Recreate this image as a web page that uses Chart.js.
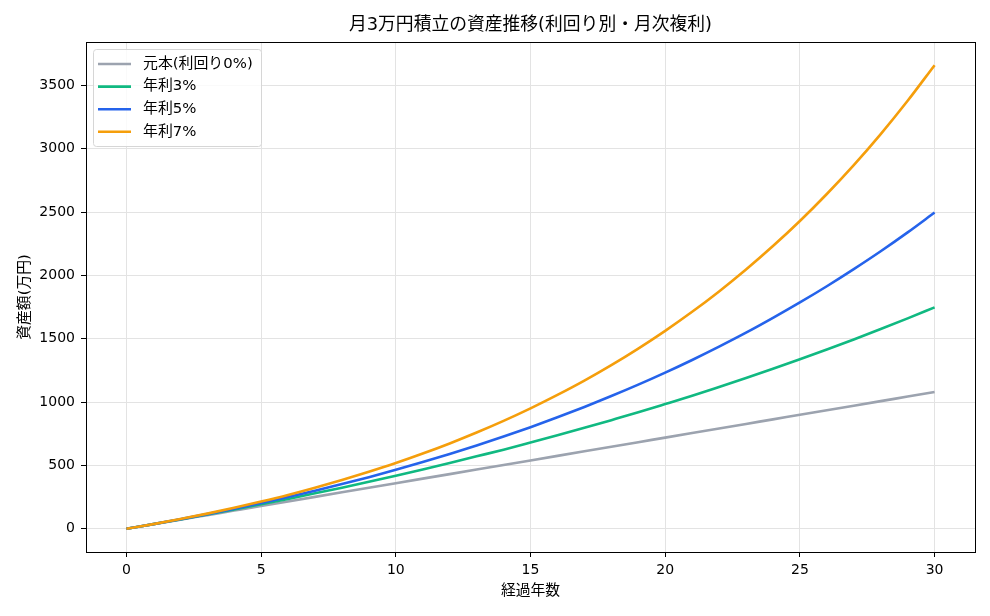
<!DOCTYPE html>
<html><head><meta charset="utf-8">
<script src="https://cdn.jsdelivr.net/npm/chart.js@4/dist/chart.umd.min.js"></script>
<style>html,body{margin:0;padding:0;background:#fff;overflow:hidden}canvas{display:block}</style>
</head><body>
<div style="width:990px;height:616px"><canvas id="c" width="990" height="616"></canvas></div>
<script>
const chartTitle = '月3万円積立の資産推移(利回り別・月次複利)';
const xTitle = '経過年数';
const yTitle = '資産額(万円)';
const years = [0,1,2,3,4,5,6,7,8,9,10,11,12,13,14,15,16,17,18,19,20,21,22,23,24,25,26,27,28,29,30];
const principal = [0,36,72,108,144,180,216,252,288,324,360,396,432,468,504,540,576,612,648,684,720,756,792,828,864,900,936,972,1008,1044,1080];
const rate3 = [0,37,74,113,153,194,236,280,325,371,419,468,519,572,625,681,738,797,858,920,985,1051,1120,1190,1263,1338,1415,1495,1577,1661,1748];
const rate5 = [0,37,76,116,159,204,251,301,353,408,466,527,590,657,728,802,880,962,1048,1138,1233,1333,1438,1548,1665,1787,1915,2050,2191,2340,2497];
const rate7 = [0,37,77,120,166,215,267,324,385,450,519,594,674,760,852,951,1057,1170,1292,1423,1563,1713,1874,2047,2232,2430,2643,2871,3116,3379,3660];
const seriesLabels = ['元本(利回り0%)','年利3%','年利5%','年利7%'];
const seriesValues = [principal, rate3, rate5, rate7];
const seriesColors = ['#9ca3af','#10b981','#2563eb','#f59e0b'];
const xTicks = [0,5,10,15,20,25,30];
const yTicks = [0,500,1000,1500,2000,2500,3000,3500];

const FONT = '"DejaVu Sans", "Noto Sans CJK JP", sans-serif';

const framePlugin = {
  id:'frame',
  afterDraw(chart){
    const {ctx, chartArea:a} = chart;
    ctx.save();
    ctx.strokeStyle = '#000'; ctx.lineWidth = 1;
    ctx.strokeRect(Math.round(a.left)+0.5, Math.round(a.top)+0.5, Math.round(a.right-a.left), Math.round(a.bottom-a.top));
    ctx.restore();
  }
};
const titlePlugin = {
  id:'mtitle',
  afterDraw(chart){
    const {ctx, chartArea:a} = chart;
    ctx.save();
    ctx.fillStyle = '#000';
    ctx.font = '17.8px ' + FONT;
    ctx.textAlign = 'center'; ctx.textBaseline = 'middle';
    ctx.fillText(chartTitle, (a.left + a.right)/2, 25);
    ctx.restore();
  }
};
const legendPlugin = {
  id:'mlegend',
  afterDraw(chart){
    const {ctx} = chart;
    ctx.save();
    const x = 93.5, y = 49.5, w = 168, h = 97;
    ctx.beginPath();
    ctx.roundRect(x, y, w, h, 3);
    ctx.fillStyle = 'rgba(255,255,255,0.8)';
    ctx.fill();
    ctx.strokeStyle = '#d6d6d6'; ctx.lineWidth = 1;
    ctx.stroke();
    ctx.font = '14.9px ' + FONT;
    ctx.textBaseline = 'middle'; ctx.textAlign = 'left';
    seriesLabels.forEach((lab, i) => {
      const yy = 64 + i * 22.6;
      ctx.strokeStyle = seriesColors[i]; ctx.lineWidth = 2.6;
      ctx.beginPath(); ctx.moveTo(98, yy); ctx.lineTo(131, yy); ctx.stroke();
      ctx.fillStyle = '#000';
      ctx.fillText(lab, 143, yy);
    });
    ctx.restore();
  }
};

const datasets = seriesLabels.map((lab, i) => ({
  label: lab,
  data: years.map((yr, j) => ({x: yr, y: seriesValues[i][j]})),
  borderColor: seriesColors[i],
  backgroundColor: seriesColors[i],
  borderWidth: 2.6,
  pointRadius: 0,
  fill: false,
  cubicInterpolationMode: 'monotone',
  order: seriesLabels.length - i
}));

new Chart(document.getElementById('c'), {
  type: 'line',
  data: { datasets },
  options: {
    responsive: false, animation: false, devicePixelRatio: 1,
    layout: { padding: { left: 0, top: 42, right: 15, bottom: 0 } },
    plugins: { legend: { display: false }, title: { display: false }, tooltip: { enabled: false } },
    scales: {
      x: {
        type: 'linear', min: -1.5, max: 31.5, bounds: 'data',
        afterBuildTicks: s => { s.ticks = xTicks.map(v => ({ value: v })); },
        afterFit: s => { s.height = 64; },
        grid: { color: '#e3e3e3', tickColor: '#000', tickLength: 5, lineWidth: 1 },
        border: { color: '#000', width: 1 },
        ticks: { padding: 5, color: '#000', font: { family: FONT, size: 14 }, maxRotation: 0, autoSkip: false, callback: v => String(v) },
        title: { display: true, text: xTitle, color: '#000', font: { family: FONT, size: 14.8 }, padding: { top: 0, bottom: 16 } }
      },
      y: {
        type: 'linear', min: -183, max: 3843, bounds: 'data',
        afterBuildTicks: s => { s.ticks = yTicks.map(v => ({ value: v })); },
        afterFit: s => { s.width = 86; },
        grid: { color: '#e3e3e3', tickColor: '#000', tickLength: 5, lineWidth: 1 },
        border: { color: '#000', width: 1 },
        ticks: { padding: 6, color: '#000', font: { family: FONT, size: 14 }, autoSkip: false, callback: v => String(v) },
        title: { display: true, text: yTitle, color: '#000', font: { family: FONT, size: 14.8 }, padding: { top: 16, bottom: 0 } }
      }
    }
  },
  plugins: [framePlugin, titlePlugin, legendPlugin]
});
</script>
</body></html>
